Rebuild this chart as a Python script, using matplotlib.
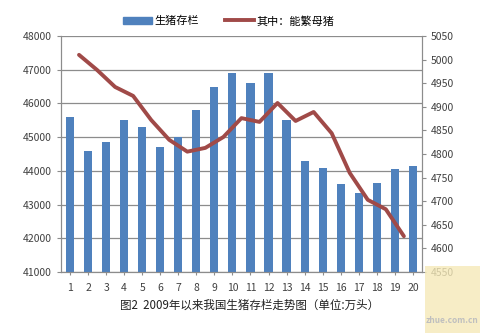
import matplotlib
matplotlib.use("Agg")
import matplotlib.pyplot as plt
from matplotlib.patches import Rectangle
from matplotlib.lines import Line2D

plt.rcParams['font.family'] = ['Noto Sans CJK SC', 'DejaVu Sans']

months = list(range(1, 21))
stock = [45600, 44600, 44850, 45500, 45300, 44700, 45000, 45800, 46500, 46900,
         46600, 46900, 45500, 44300, 44100, 43600, 43350, 43650, 44050, 44150]

# sow line sits between categories (19 points)
sow_pos = [m + 0.5 for m in range(1, 20)]
sows = [5010, 4978, 4942, 4923, 4872, 4830, 4805, 4813, 4836, 4876,
        4868, 4908, 4870, 4889, 4844, 4760, 4703, 4683, 4626]

bar_color = "#4F81BD"
line_color = "#A04A48"
grid_color = "#8C8C8C"

fig = plt.figure(figsize=(4.8, 3.33), dpi=100)
ax = fig.add_axes([0.127, 0.183, 0.752, 0.709])
ax2 = ax.twinx()

ax.bar(months, stock, width=0.45, color=bar_color, zorder=3)
ax.set_ylim(41000, 48000)
ax.set_yticks(range(41000, 48001, 1000))
ax.set_xlim(0.5, 20.5)
ax.set_xticks(months)
ax.yaxis.grid(True, color=grid_color, linewidth=0.9, zorder=0)
ax.set_axisbelow(True)

ax2.plot(sow_pos, sows, color=line_color, linewidth=2.8, solid_capstyle="round",
         solid_joinstyle="round", zorder=4)
ax2.set_ylim(4550, 5050)
ax2.set_yticks(range(4550, 5051, 50))

for a in (ax, ax2):
    a.spines["top"].set_visible(False)
    for s in ["left", "right", "bottom"]:
        a.spines[s].set_color(grid_color)
    a.tick_params(labelsize=7.5, colors=grid_color, labelcolor="#404040",
                  length=3, width=0.8)
ax.tick_params(axis="x", length=4, direction="inout", pad=6)

# legend
handles = [Rectangle((0, 0), 1, 1, color=bar_color),
           Line2D([0], [0], color=line_color, linewidth=2.8)]
fig.legend(handles, ["生猪存栏", "其中：能繁母猪"], loc="center",
           bbox_to_anchor=(0.476, 0.937), ncol=2, frameon=False,
           fontsize=8, handlelength=2.6, handleheight=0.7, columnspacing=2.4,
           handletextpad=0.2)

fig.text(0.52, 0.083, "图2  2009年以来我国生猪存栏走势图（单位:万头）",
         ha="center", va="center", fontsize=8.3, color="#202020")

# watermark
fig.patches.append(Rectangle((0.885, 0.0), 0.115, 0.2, transform=fig.transFigure,
                             facecolor="#F5E9B8", edgecolor="none", alpha=0.8, zorder=0))
fig.text(0.942, 0.025, "zhue.com.cn", ha="center", va="bottom", fontsize=6,
         color="#BFBFBF", fontweight="bold")

fig.savefig("out.png", dpi=100)
